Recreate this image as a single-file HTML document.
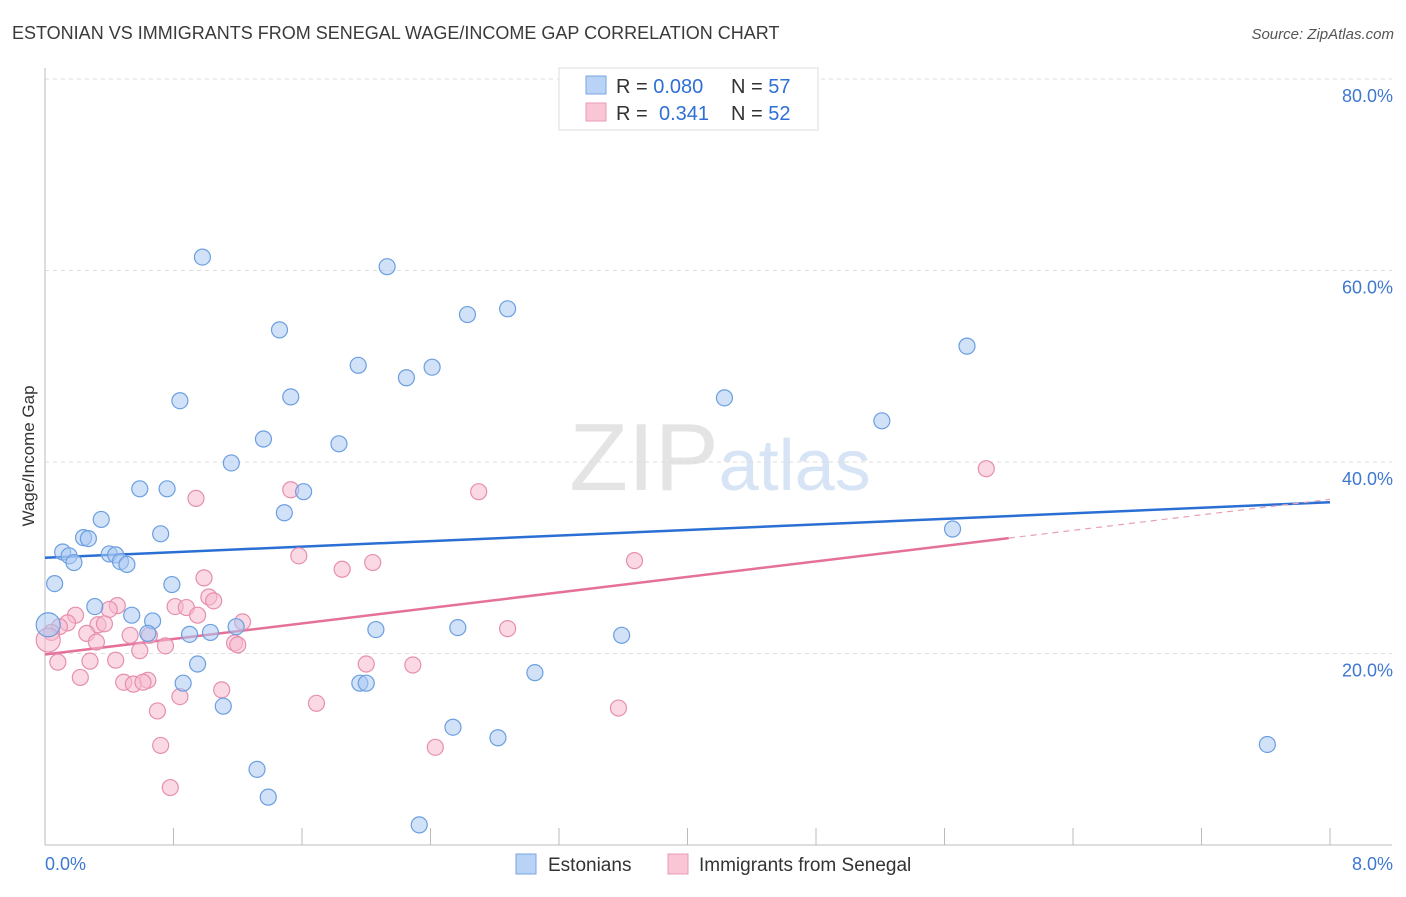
<!DOCTYPE html>
<html><head><meta charset="utf-8"><style>
body{margin:0;background:#fff;font-family:"Liberation Sans",sans-serif;}
svg text{font-family:"Liberation Sans",sans-serif;}
</style></head><body>
<svg id="chart" width="1406" height="892" viewBox="0 0 1406 892" xmlns="http://www.w3.org/2000/svg">
<text x="12" y="39" font-size="18" fill="#3a3a3a">ESTONIAN VS IMMIGRANTS FROM SENEGAL WAGE/INCOME GAP CORRELATION CHART</text>
<text x="1394" y="39" font-size="15" fill="#555" text-anchor="end" font-style="italic">Source: ZipAtlas.com</text>
<text x="720" y="490" font-size="96" fill="#e4e4e4" text-anchor="middle" font-family="Liberation Serif">ZIP<tspan fill="#d6e4f5" font-family="Liberation Sans" font-size="72">atlas</tspan></text>
<g id="grid"></g>
<g id="axes"></g>
<text transform="translate(34,456) rotate(-90)" font-size="17" fill="#333" text-anchor="middle">Wage/Income Gap</text>
<g id="trends"></g>
<g id="points"></g>
<g>
<rect x="559" y="68" width="259" height="62" fill="#fff" stroke="#ddd"/>
<rect x="586" y="76" width="20" height="18" fill="#b8d3f5" stroke="#7aa6e0"/>
<rect x="586" y="103" width="20" height="18" fill="#f9c6d6" stroke="#e99ab6"/>
<text x="616" y="93" font-size="20" fill="#333">R = <tspan fill="#2f6fd6">0.080</tspan><tspan x="731">N = </tspan><tspan fill="#2f6fd6">57</tspan></text>
<text x="616" y="120" font-size="20" fill="#333">R = <tspan fill="#2f6fd6" x="659">0.341</tspan><tspan x="731">N = </tspan><tspan fill="#2f6fd6">52</tspan></text>
</g>
<g>
<rect x="516" y="854" width="20" height="20" fill="#b8d3f5" stroke="#7aa6e0"/>
<text x="548" y="871" font-size="19" fill="#333">Estonians</text>
<rect x="668" y="854" width="20" height="20" fill="#f9c6d6" stroke="#e99ab6"/>
<text x="699" y="871" font-size="19" fill="#333">Immigrants from Senegal</text>
</g>
</svg>
<script>
const yTicks=[20,40,60,80];
const yTickLabels=["20.0%","40.0%","60.0%","80.0%"];
const xEndLabels=["0.0%","8.0%"];
const blueX=[0.98,2.13,1.46,2.63,2.88,5.74,1.95,2.25,2.41,0.84,1.53,4.23,5.21,1.36,1.83,1.16,0.59,0.76,1.61,1.49,0.35,0.72,0.24,0.27,0.11,0.15,0.18,0.40,0.44,0.47,0.51,5.65,0.06,0.79,0.31,0.54,0.67,0.02,0.64,0.90,1.03,1.19,2.06,2.57,3.59,0.95,3.05,0.86,1.96,2.00,1.11,2.54,2.82,7.61,1.32,1.39,2.33];
const blueY=[61.4,60.4,53.8,55.4,56.0,52.1,50.1,48.8,49.9,46.4,46.8,46.7,44.3,42.4,41.9,39.9,37.2,37.2,36.9,34.7,34.0,32.5,32.1,32.0,30.6,30.2,29.5,30.4,30.3,29.6,29.3,33.0,27.3,27.2,24.9,24.0,23.4,23.0,22.1,22.0,22.2,22.8,22.5,22.7,21.9,18.9,18.0,16.9,16.9,16.9,14.5,12.3,11.2,10.5,7.9,5.0,2.1];
const pinkX=[5.86,0.94,1.53,2.70,1.58,3.67,1.85,2.04,0.99,1.02,1.05,0.81,0.88,0.95,0.45,0.40,0.19,0.33,0.37,0.14,0.09,0.04,0.53,0.65,0.26,0.32,0.75,0.59,1.23,1.18,1.20,2.88,0.08,0.28,0.44,2.00,2.29,0.22,0.49,0.55,0.64,0.61,1.10,0.84,1.69,0.70,3.57,0.72,2.43,0.78,0.02];
const pinkY=[39.3,36.2,37.1,36.9,30.2,29.7,28.8,29.5,27.9,25.9,25.5,24.9,24.8,24.0,25.0,24.6,24.0,23.0,23.1,23.2,22.8,22.2,21.9,21.9,22.1,21.2,20.8,20.3,23.3,21.1,20.9,22.6,19.1,19.2,19.3,18.9,18.8,17.5,17.0,16.8,17.2,17.0,16.2,15.5,14.8,14.0,14.3,10.4,10.2,6.0,21.4];
const blueTrend=[30.0,35.8];
const pinkTrend=[19.9,36.1];
const pinkSolidEnd=6.0;
const NS="http://www.w3.org/2000/svg";
const X0=45,X1=1330,Y0=845,PPY=191.5/20;
const sx=v=>X0+(v/8)*(X1-X0);
const sy=v=>Y0-v*PPY;
function mk(tag,attrs,parent){const e=document.createElementNS(NS,tag);for(const k in attrs)e.setAttribute(k,attrs[k]);parent.appendChild(e);return e;}
const grid=document.getElementById('grid');
yTicks.forEach((t,i)=>{
  const l=mk('line',{x1:X0,x2:1392,y1:sy(t),y2:sy(t),stroke:'#ddd','stroke-dasharray':'4,4'},grid);
  
  
  const tx=mk('text',{x:1393,y:sy(t)+23,'font-size':18,fill:'#3f78d0','text-anchor':'end'},grid);
  tx.textContent=yTickLabels[i];
  
  
});
const ax=document.getElementById('axes');
mk('line',{x1:X0,x2:X0,y1:68,y2:Y0,stroke:'#bbb'},ax);
mk('line',{x1:X0,x2:1392,y1:Y0,y2:Y0,stroke:'#bbb'},ax);
for(let i=0;i<=10;i++){const x=sx(i*0.8);mk('line',{x1:x,x2:x,y1:828,y2:Y0,stroke:'#bbb'},ax);}
const xl0=mk('text',{x:45,y:870,'font-size':18,fill:'#3f78d0'},ax);xl0.textContent=xEndLabels[0];


const xl1=mk('text',{x:1393,y:870,'font-size':18,fill:'#3f78d0','text-anchor':'end'},ax);xl1.textContent=xEndLabels[1];


const tr=document.getElementById('trends');
const bt=mk('line',{x1:sx(0),y1:sy(blueTrend[0]),x2:sx(8),y2:sy(blueTrend[1]),stroke:'#2a6fd4','stroke-width':2.5},tr);


const py=x=>pinkTrend[0]+(pinkTrend[1]-pinkTrend[0])*x/8;
const pt=mk('line',{x1:sx(0),y1:sy(py(0)),x2:sx(pinkSolidEnd),y2:sy(py(pinkSolidEnd)),stroke:'#e5709a','stroke-width':2.5},tr);


const pd=mk('line',{x1:sx(pinkSolidEnd),y1:sy(py(pinkSolidEnd)),x2:sx(8),y2:sy(py(8)),stroke:'#e5a0b8','stroke-width':1.2,'stroke-dasharray':'6,5'},tr);


const pg=document.getElementById('points');
function pts(X,Y,fill,stroke,name,bigIdx){
  X.forEach((x,i)=>{
    const c=mk('circle',{cx:sx(x),cy:sy(Y[i]),r:i===bigIdx?12:8,fill:fill,'fill-opacity':0.55,stroke:stroke,'stroke-width':1.2},pg);
    
    
  });
}
pts(pinkX,pinkY,'#f7b9ce','#e58fae','senegal-point',pinkX.length-1);
pts(blueX,blueY,'#a9c9f2','#6b9fe0','estonian-point',37);
</script>
</body></html>
